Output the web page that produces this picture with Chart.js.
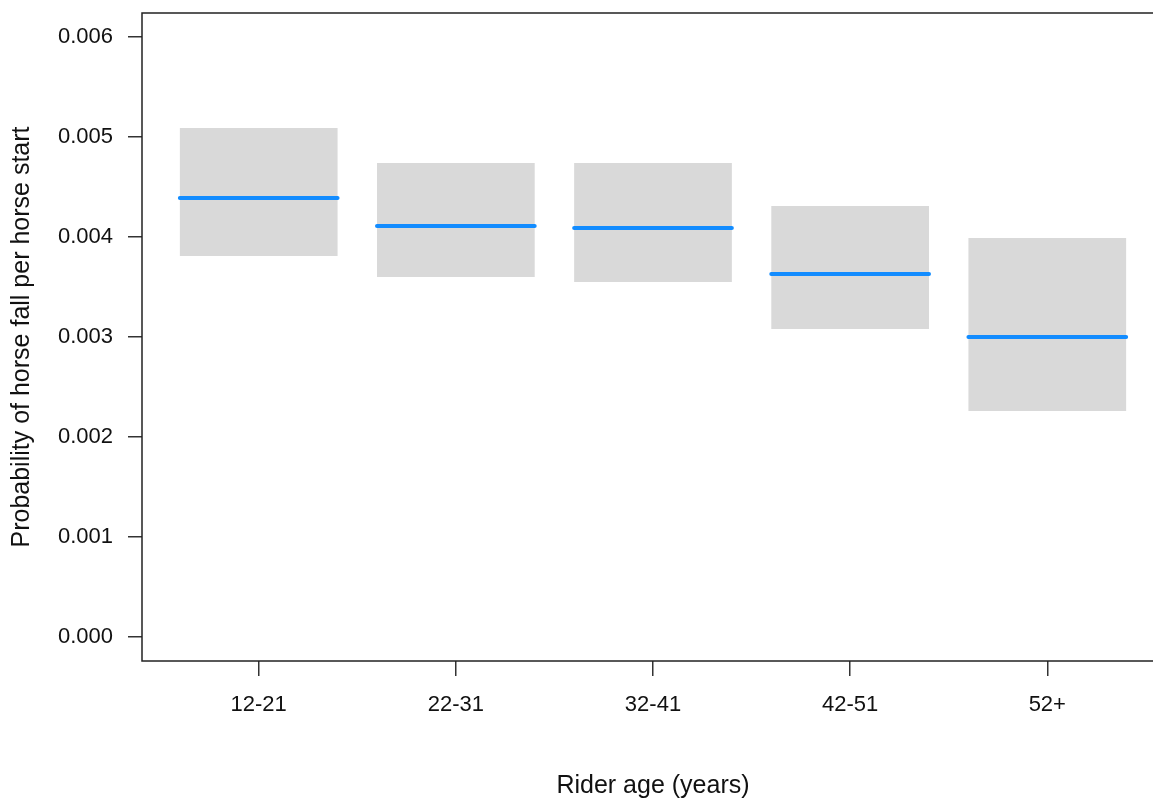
<!DOCTYPE html>
<html>
<head>
<meta charset="utf-8">
<script src="https://cdn.jsdelivr.net/npm/chart.js@4"></script>
<style>
  html, body { margin: 0; padding: 0; background: #fff; overflow: hidden; }
  canvas { display: block; }
</style>
</head>
<body>
<canvas id="c" width="1180" height="799"></canvas>
<script>
const categories = ["12-21", "22-31", "32-41", "42-51", "52+"];
const lowerCI = [0.00381, 0.00360, 0.00355, 0.00308, 0.00226];
const upperCI = [0.00509, 0.00474, 0.00474, 0.00431, 0.00399];
const meanProb = [0.00439, 0.00411, 0.00409, 0.00363, 0.00300];
const yTickValues = [0, 0.001, 0.002, 0.003, 0.004, 0.005, 0.006];

const FONT = "'Liberation Sans', Arial, sans-serif";
const halfWidth = 0.4;

const boxData = categories.map((c, i) => ({ x: i + 1, y: [lowerCI[i], upperCI[i]] }));
const meanData = [];
categories.forEach((c, i) => {
  meanData.push({ x: i + 1 - halfWidth, y: meanProb[i] });
  meanData.push({ x: i + 1 + halfWidth, y: meanProb[i] });
  meanData.push({ x: i + 1 + 0.5, y: null });
});

const frame = {
  id: 'frame',
  afterDraw(chart) {
    const { ctx, chartArea: a } = chart;
    ctx.save();
    ctx.strokeStyle = '#222';
    ctx.lineWidth = 1.5;
    ctx.strokeRect(a.left, a.top, a.right - a.left, a.bottom - a.top);
    ctx.restore();
  }
};

new Chart(document.getElementById('c'), {
  data: {
    datasets: [
      {
        type: 'bar',
        data: boxData,
        backgroundColor: '#D9D9D9',
        borderWidth: 0,
        barPercentage: 0.8,
        categoryPercentage: 1.0,
        order: 2
      },
      {
        type: 'line',
        data: meanData,
        borderColor: '#128CFF',
        borderWidth: 4,
        borderCapStyle: 'round',
        pointRadius: 0,
        spanGaps: false,
        order: 1
      }
    ]
  },
  plugins: [frame],
  options: {
    responsive: false,
    animation: false,
    devicePixelRatio: 1,
    layout: { padding: { top: 13, right: 16, left: 0, bottom: 0 } },
    plugins: { legend: { display: false }, tooltip: { enabled: false } },
    scales: {
      x: {
        type: 'linear',
        offset: false,
        min: 0.408,
        max: 5.592,
        afterBuildTicks(scale) { scale.ticks = categories.map((c, i) => ({ value: i + 1 })); },
        afterFit(scale) { scale.height = 138; scale.paddingLeft = 0; scale.paddingRight = 0; },
        ticks: {
          autoSkip: false,
          maxRotation: 0,
          padding: 16,
          color: '#111',
          font: { family: FONT, size: 22 },
          callback: (v) => categories[v - 1]
        },
        grid: { offset: false, drawOnChartArea: false, drawTicks: true, tickLength: 15, color: '#333', lineWidth: 1.5 },
        border: { display: false },
        title: {
          display: true,
          text: 'Rider age (years)',
          color: '#111',
          font: { family: FONT, size: 25, lineHeight: 1 },
          padding: { top: 0, bottom: 0 }
        }
      },
      y: {
        type: 'linear',
        min: -0.00024,
        max: 0.00624,
        afterBuildTicks(scale) { scale.ticks = yTickValues.map(v => ({ value: v })); },
        afterFit(scale) { scale.width = 142; scale.paddingTop = 0; scale.paddingBottom = 0; },
        ticks: {
          padding: 15,
          color: '#111',
          font: { family: FONT, size: 22 },
          callback: (v) => v.toFixed(3)
        },
        grid: { drawOnChartArea: false, drawTicks: true, tickLength: 14, color: '#333', lineWidth: 1.5 },
        border: { display: false },
        title: {
          display: true,
          text: 'Probability of horse fall per horse start',
          color: '#111',
          font: { family: FONT, size: 25, lineHeight: 1 },
          padding: { top: 10, bottom: 0 }
        }
      }
    }
  }
});
</script>
</body>
</html>
